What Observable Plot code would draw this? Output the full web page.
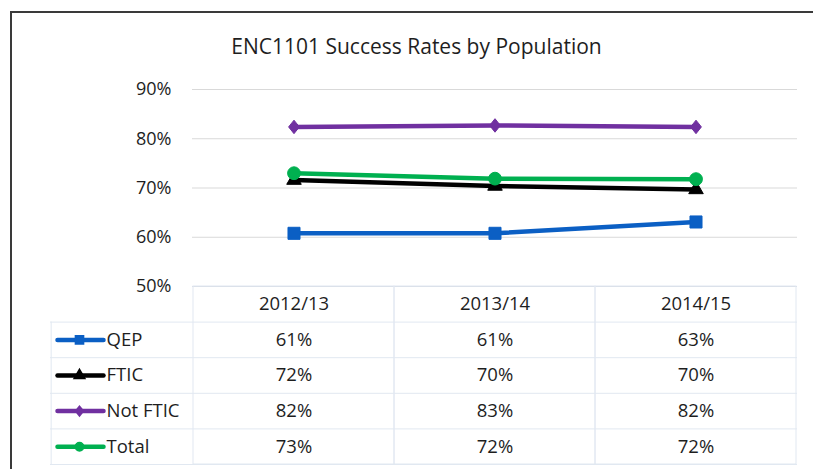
<!DOCTYPE html>
<html><head><meta charset="utf-8">
<script src="https://cdn.jsdelivr.net/npm/d3@7"></script>
<script src="https://cdn.jsdelivr.net/npm/@observablehq/plot@0.6"></script>
<style>
body{margin:0;background:#fff;}
#wrap{position:relative;width:813px;height:469px;overflow:hidden;font-family:"Open Sans",sans-serif;background:#fff;}
#frame{position:absolute;left:10px;top:11px;right:-5px;bottom:-5px;border-left:2px solid #3a3a3a;border-top:2px solid #3a3a3a;}
#title{position:absolute;left:0;width:833px;top:32px;text-align:center;font-size:21px;line-height:28px;color:#1e1e1e;}
#chart{position:absolute;left:0;top:0;}
#table{position:absolute;left:0;top:286px;}
svg{overflow:visible;}
</style></head><body>
<div id="wrap"><div id="frame"></div><div id="chart"></div><div id="table"></div><div id="title">ENC1101 Success Rates by Population</div></div>
<script>
const years = ["2012/13", "2013/14", "2014/15"];
const seriesNames = ["QEP", "FTIC", "Not FTIC", "Total"];
const qep = [60.8, 60.8, 63.1];
const ftic = [71.6, 70.4, 69.7];
const notFtic = [82.4, 82.7, 82.4];
const total = [73.0, 71.9, 71.8];
const yTicks = [50, 60, 70, 80, 90];

const colors = ["#0b5fc4", "#000000", "#7030a0", "#00b050"];
const textColor = "#1e1e1e";
const tableBorder = "#e1e8f1";
const font = "Open Sans";

const rows = [];
[qep, ftic, notFtic, total].forEach((vals, s) =>
  vals.forEach((v, i) => rows.push({series: seriesNames[s], year: years[i], value: v})));

// custom marker shapes
const diamond = (k) => ({draw(ctx, size) {
  const r = Math.sqrt(size / Math.PI);
  ctx.moveTo(0, -r * k); ctx.lineTo(r, 0); ctx.lineTo(0, r * k); ctx.lineTo(-r, 0); ctx.closePath();
}});
const hline = {draw(ctx, size) { const r = Math.sqrt(size / Math.PI); ctx.moveTo(-r, 0); ctx.lineTo(r, 0); }};

const chartSym = ["square", "triangle", diamond(1.25), "circle"];
const chartR = [6.8, 5.4, 5.4, 6.4];
const keyR = [4.6, 4.0, 4.0, 4.2];

const colorScale = {domain: seriesNames, range: colors};

const chart = Plot.plot({
  width: 813, height: 290,
  marginTop: 89, marginBottom: 4, marginLeft: 192, marginRight: 16,
  style: {fontFamily: font, fontSize: "18px", color: textColor, background: "transparent"},
  x: {type: "band", domain: years, padding: 0, axis: null},
  y: {domain: [50, 90], label: null},
  color: colorScale,
  marks: [
    Plot.gridY(yTicks.slice(1), {stroke: "#d9d9d9", strokeOpacity: 1}),
    Plot.ruleY([yTicks[0]], {stroke: "#d5dbe3"}),
    Plot.axisY(yTicks, {tickSize: 0, tickPadding: 21, tickFormat: d => d + "%", label: null, fontSize: 18, fill: textColor}),
    Plot.line(rows, {x: "year", y: "value", z: "series", stroke: "series", strokeWidth: 4.5}),
    ...seriesNames.map((s, k) => Plot.dot(rows.filter(d => d.series === s), {
      x: "year", y: "value", fill: "series", stroke: "series", strokeWidth: 1,
      symbol: () => chartSym[k], r: chartR[k]
    }))
  ]
});
document.getElementById("chart").append(chart);

const bw = (797 - 192) / 3;
const table = Plot.plot({
  width: 813, height: 183,
  marginTop: 0, marginBottom: 5, marginLeft: 50, marginRight: 16,
  style: {fontFamily: font, fontSize: "18px", color: textColor, background: "transparent"},
  x: {type: "band", domain: years, range: [192, 797], padding: 0, axis: null},
  y: {domain: [0, 5], range: [0, 178], axis: null},
  color: colorScale,
  marks: [
    Plot.ruleY([1, 2, 3, 4, 5], {stroke: tableBorder}),
    Plot.barY(years, {x: d => d, y1: 0, y2: 5, fill: "none", stroke: tableBorder}),
    Plot.ruleX([years[0]], {x: d => d, y1: 1, y2: 5, dx: -(bw / 2 + 142), stroke: tableBorder}),
    Plot.text(years, {x: d => d, y: 0.5, text: d => d, fill: textColor, fontSize: 18.5}),
    Plot.text(rows, {x: "year", y: d => seriesNames.indexOf(d.series) + 1.5, text: d => Math.round(d.value) + "%", fill: textColor, fontSize: 18.5}),
    Plot.text(seriesNames, {y: (d, i) => i + 1.5, text: d => d, frameAnchor: "left", dx: 56, textAnchor: "start", fill: textColor, fontSize: 18.5}),
    Plot.dot(seriesNames, {y: (d, i) => i + 1.5, frameAnchor: "left", dx: 30, symbol: () => hline, r: 23, stroke: d => d, fill: "none", strokeWidth: 4.5, strokeLinecap: "round"}),
    ...seriesNames.map((s, k) => Plot.dot([s], {
      y: () => k + 1.5, frameAnchor: "left", dx: 29, fill: d => d, stroke: d => d,
      symbol: () => chartSym[k], r: keyR[k]
    }))
  ]
});
document.getElementById("table").append(table);
</script>
</body></html>
